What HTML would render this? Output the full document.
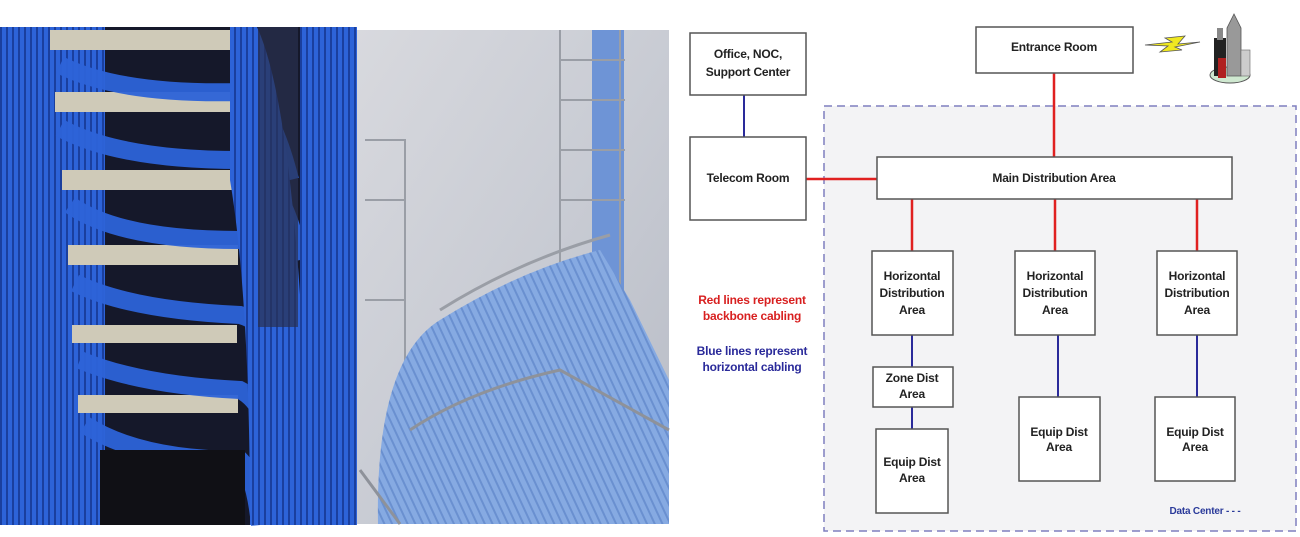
<!DOCTYPE html>
<html><head><meta charset="utf-8"><style>
html,body{margin:0;padding:0;background:#fff;width:1300px;height:537px;overflow:hidden}
svg{position:absolute;left:0;top:0}
text{font-family:"Liberation Sans",sans-serif;font-weight:bold;font-size:12px;fill:#222;text-anchor:middle;letter-spacing:-0.2px}
</style></head><body>
<svg width="1300" height="537" viewBox="0 0 1300 537">
<defs>
<linearGradient id="g2" x1="0" x2="1" y1="0" y2="1"><stop offset="0" stop-color="#d8d9de"/><stop offset=".5" stop-color="#c9ccd4"/><stop offset="1" stop-color="#b8bcc6"/></linearGradient>
<pattern id="cab" width="6" height="6" patternUnits="userSpaceOnUse"><rect width="6" height="6" fill="#2d63d8"/><rect width="2" height="6" fill="#1a3f9e"/></pattern>
<pattern id="cab2" width="7" height="7" patternUnits="userSpaceOnUse" patternTransform="rotate(-25)"><rect width="7" height="7" fill="#86aae2"/><rect width="2" height="7" fill="#6a90d0"/></pattern>
</defs>
<!-- photo 1 -->
<rect x="0" y="27" width="357" height="498" fill="#15182a"/>
<rect x="0" y="27" width="105" height="498" fill="url(#cab)"/>
<g fill="#cfcab8">
<rect x="50" y="30" width="195" height="20"/><rect x="55" y="92" width="185" height="20"/><rect x="62" y="170" width="175" height="20"/><rect x="68" y="245" width="170" height="20"/><rect x="72" y="325" width="165" height="18"/><rect x="78" y="395" width="160" height="18"/>
</g>
<g stroke="#2d63d8" stroke-width="18" fill="none" opacity=".95">
<path d="M60 65 Q120 95 240 92 Q270 100 290 180"/><path d="M60 128 Q120 160 240 160 Q280 170 300 260"/><path d="M70 205 Q120 240 240 240 Q285 255 300 330"/><path d="M75 283 Q130 310 240 315 Q280 325 290 400"/><path d="M80 360 Q140 385 240 390 Q270 405 275 470"/><path d="M85 425 Q140 460 240 460 Q255 475 260 525"/>
</g>
<path d="M230 27 L257 27 Q300 120 310 525 L250 525 Q250 300 230 180 Z" fill="url(#cab)"/>
<rect x="258" y="27" width="40" height="300" fill="#2a3050" opacity=".7"/>
<rect x="300" y="27" width="57" height="498" fill="url(#cab)"/>
<rect x="100" y="450" width="145" height="75" fill="#101015"/>
<!-- photo 2 -->
<rect x="357" y="30" width="312" height="494" fill="url(#g2)"/>
<rect x="592" y="30" width="32" height="420" fill="#6e94d6"/>
<g stroke="#9a9ea6" stroke-width="2" fill="none">
<path d="M560 30 L560 430 M620 30 L620 480 M560 60 L625 60 M560 100 L625 100 M560 150 L625 150 M560 200 L625 200"/>
<path d="M365 140 L405 140 L405 420 M365 200 L405 200 M365 300 L405 300"/>
</g>
<path d="M378 524 Q375 360 440 320 Q520 270 600 250 L630 300 L669 380 L669 524 Z" fill="url(#cab2)"/>
<path d="M440 310 Q520 260 610 235" stroke="#9a9ea6" stroke-width="3" fill="none"/>
<path d="M410 430 Q470 390 560 370 L669 430" stroke="#8e929a" stroke-width="3" fill="none"/>
<path d="M360 470 L400 524" stroke="#8e929a" stroke-width="3"/>
<!-- diagram -->
<rect x="824" y="106" width="472" height="425" fill="#f3f3f5" stroke="#7f7fbf" stroke-width="1.5" stroke-dasharray="8,5"/>
<g stroke="#e02020" stroke-width="2.5">
<line x1="1054" y1="73" x2="1054" y2="158"/><line x1="806" y1="179" x2="877" y2="179"/>
<line x1="912" y1="199" x2="912" y2="251"/><line x1="1055" y1="199" x2="1055" y2="251"/><line x1="1197" y1="199" x2="1197" y2="251"/>
</g>
<g stroke="#2a2a9a" stroke-width="2">
<line x1="744" y1="95" x2="744" y2="137"/><line x1="912" y1="335" x2="912" y2="367"/><line x1="912" y1="407" x2="912" y2="429"/>
<line x1="1058" y1="335" x2="1058" y2="397"/><line x1="1197" y1="335" x2="1197" y2="397"/>
</g>
<g fill="#fff" stroke="#555" stroke-width="1.5">
<rect x="690" y="33" width="116" height="62"/><rect x="690" y="137" width="116" height="83"/>
<rect x="976" y="27" width="157" height="46"/><rect x="877" y="157" width="355" height="42"/>
<rect x="872" y="251" width="81" height="84"/><rect x="1015" y="251" width="80" height="84"/><rect x="1157" y="251" width="80" height="84"/>
<rect x="873" y="367" width="80" height="40"/><rect x="876" y="429" width="72" height="84"/>
<rect x="1019" y="397" width="81" height="84"/><rect x="1155" y="397" width="80" height="84"/>
</g>
<text x="748" y="58">Office, NOC,</text><text x="748" y="76">Support Center</text>
<text x="748" y="182">Telecom Room</text>
<text x="1054" y="51">Entrance Room</text>
<text x="1054" y="182">Main Distribution Area</text>
<g><text x="912" y="280">Horizontal</text><text x="912" y="297">Distribution</text><text x="912" y="314">Area</text></g>
<g><text x="1055" y="280">Horizontal</text><text x="1055" y="297">Distribution</text><text x="1055" y="314">Area</text></g>
<g><text x="1197" y="280">Horizontal</text><text x="1197" y="297">Distribution</text><text x="1197" y="314">Area</text></g>
<text x="912" y="382">Zone Dist</text><text x="912" y="398">Area</text>
<text x="912" y="466">Equip Dist</text><text x="912" y="482">Area</text>
<text x="1059" y="436">Equip Dist</text><text x="1059" y="451">Area</text>
<text x="1195" y="436">Equip Dist</text><text x="1195" y="451">Area</text>
<text x="752" y="304" style="fill:#d82020">Red lines represent</text><text x="752" y="320" style="fill:#d82020">backbone cabling</text>
<text x="752" y="355" style="fill:#2a2a9a">Blue lines represent</text><text x="752" y="371" style="fill:#2a2a9a">horizontal cabling</text>
<text x="1205" y="514" style="fill:#2a3a9a;font-size:10px">Data Center - - -</text>
<path d="M1145 45 L1172 42 L1165 38 L1185 36 L1178 44 L1200 42 L1175 47 L1182 50 L1160 52 L1168 46 Z" fill="#f0e820" stroke="#555" stroke-width=".8"/>
<ellipse cx="1230" cy="75" rx="20" ry="8" fill="#cfe8d0" stroke="#555"/>
<rect x="1214" y="38" width="12" height="38" fill="#222"/>
<rect x="1217" y="28" width="6" height="12" fill="#888"/>
<path d="M1227 76 L1227 28 L1234 14 L1241 28 L1241 76 Z" fill="#999" stroke="#555" stroke-width=".8"/>
<rect x="1241" y="50" width="9" height="26" fill="#ccc" stroke="#666" stroke-width=".6"/>
<rect x="1218" y="58" width="8" height="20" fill="#b02020"/>
</svg>
</body></html>
